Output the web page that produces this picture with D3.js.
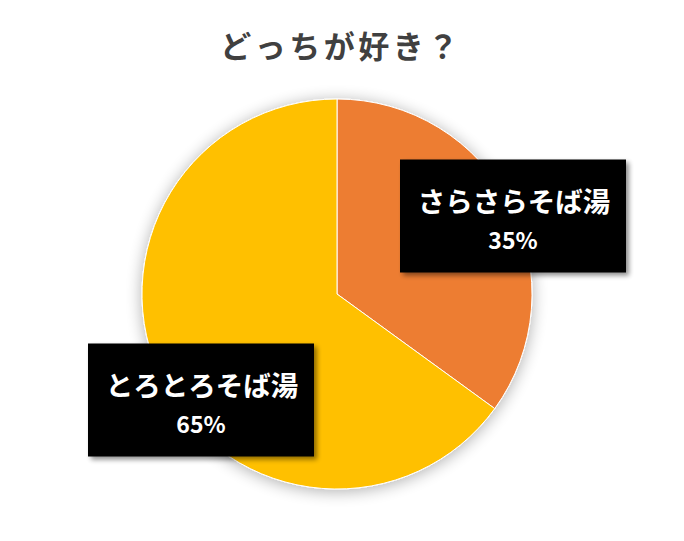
<!DOCTYPE html>
<html>
<head>
<meta charset="utf-8">
<script src="https://cdn.jsdelivr.net/npm/d3@7"></script>
<style>
  html, body { margin: 0; padding: 0; background: #fff; }
  text { font-family: "Noto Sans CJK JP", "Noto Sans", sans-serif; }
</style>
</head>
<body>
<script>
var width  = 684;
var height = 541;

var title      = 'どっちが好き？';
var categories = ['さらさらそば湯', 'とろとろそば湯'];
var values     = [35, 65];
var colors     = ['#ED7D31', '#FFC000'];

// label box centres, relative to the pie centre
var labelPos = [[176, -78], [-136, 106]];

var cx = 337, cy = 294, radius = 195;
var boxW = 226, boxH = 113;

var svg = d3.select('body').append('svg')
    .attr('width', width)
    .attr('height', height);

var defs = svg.append('defs');

var pieShadow = defs.append('filter')
    .attr('id', 'pie-shadow')
    .attr('x', '-20%').attr('y', '-20%')
    .attr('width', '140%').attr('height', '140%');
pieShadow.append('feGaussianBlur').attr('in', 'SourceAlpha').attr('stdDeviation', 8);
pieShadow.append('feOffset').attr('dx', 0).attr('dy', 2).attr('result', 'b');
pieShadow.append('feComponentTransfer').append('feFuncA').attr('type', 'linear').attr('slope', 0.32);
var m1 = pieShadow.append('feMerge');
m1.append('feMergeNode');
m1.append('feMergeNode').attr('in', 'SourceGraphic');

var boxShadow = defs.append('filter')
    .attr('id', 'box-shadow')
    .attr('x', '-10%').attr('y', '-10%')
    .attr('width', '130%').attr('height', '130%');
boxShadow.append('feGaussianBlur').attr('in', 'SourceAlpha').attr('stdDeviation', 2.5);
boxShadow.append('feOffset').attr('dx', 3).attr('dy', 3);
boxShadow.append('feComponentTransfer').append('feFuncA').attr('type', 'linear').attr('slope', 0.45);
var m2 = boxShadow.append('feMerge');
m2.append('feMergeNode');
m2.append('feMergeNode').attr('in', 'SourceGraphic');

svg.append('text')
    .attr('x', 341)
    .attr('y', 58)
    .attr('text-anchor', 'middle')
    .attr('font-size', 31)
    .attr('font-weight', 'bold')
    .attr('fill', '#404040')
    .attr('letter-spacing', 3.5)
    .text(title);

var pie = d3.pie().sort(null).value(function(d) { return d; });
var arc = d3.arc().innerRadius(0).outerRadius(radius);
var arcs = pie(values);

var g = svg.append('g')
    .attr('transform', 'translate(' + cx + ',' + cy + ')');

g.append('g')
    .attr('filter', 'url(#pie-shadow)')
  .selectAll('path')
  .data(arcs)
  .enter().append('path')
    .attr('d', arc)
    .attr('fill', function(d, i) { return colors[i]; })
    .attr('stroke', '#fff')
    .attr('stroke-width', 1);

var total = d3.sum(values);

var labels = g.selectAll('.label')
  .data(arcs)
  .enter().append('g')
    .attr('class', 'label')
    .attr('transform', function(d, i) {
      return 'translate(' + labelPos[i][0] + ',' + labelPos[i][1] + ')';
    });

labels.append('rect')
    .attr('x', -boxW / 2)
    .attr('y', -boxH / 2)
    .attr('width', boxW)
    .attr('height', boxH)
    .attr('fill', '#000')
    .attr('filter', 'url(#box-shadow)');

labels.append('text')
    .attr('text-anchor', 'middle')
    .attr('x', 1)
    .attr('y', -4)
    .attr('font-size', 27.5)
    .attr('font-weight', 'bold')
    .attr('fill', '#fff')
    .text(function(d, i) { return categories[i]; });

labels.append('text')
    .attr('text-anchor', 'middle')
    .attr('y', 33)
    .attr('font-size', 23)
    .attr('font-weight', 'bold')
    .attr('fill', '#fff')
    .text(function(d) { return Math.round(d.value / total * 100) + '%'; });
</script>
</body>
</html>
